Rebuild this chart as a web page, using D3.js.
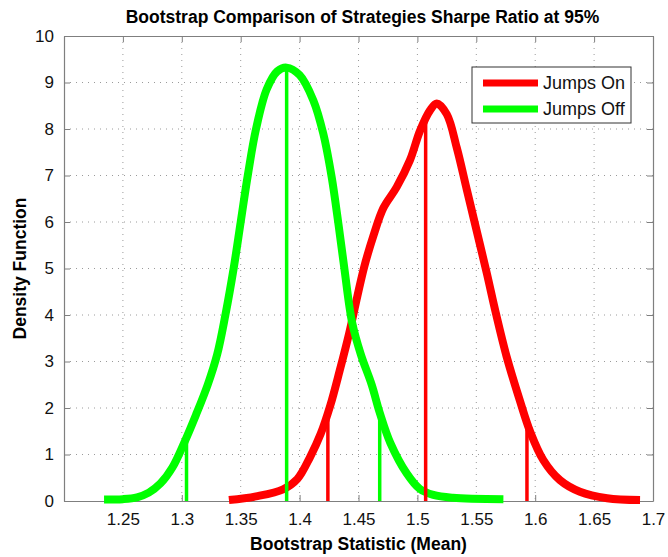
<!DOCTYPE html>
<html>
<head>
<meta charset="utf-8">
<script src="https://cdn.jsdelivr.net/npm/d3@7"></script>
<style>
  body { margin: 0; background: #fff; }
  svg { display: block; }
</style>
</head>
<body>
<div id="chart"></div>
<script>
// tick labels
var xTicks = [1.25, 1.3, 1.35, 1.4, 1.45, 1.5, 1.55, 1.6, 1.65, 1.7];
var yTicks = [0, 1, 2, 3, 4, 5, 6, 7, 8, 9, 10];

// Jumps On density (red)
var onX = [1.340, 1.363, 1.386, 1.398, 1.409, 1.418, 1.426, 1.434, 1.442, 1.449, 1.455, 1.4626,
  1.4711, 1.4824, 1.4937, 1.5022, 1.5107, 1.5164, 1.5249, 1.5334, 1.5419, 1.5504, 1.5589,
  1.5665, 1.5758, 1.5871, 1.5956, 1.6069, 1.621, 1.638, 1.661, 1.689];
var onY = [0.02, 0.1, 0.25, 0.47, 0.95, 1.45, 2.05, 2.8, 3.6, 4.4, 5.05, 5.7,
  6.3, 6.75, 7.33, 7.96, 8.4, 8.55, 8.32, 7.6, 6.7, 5.8, 4.9,
  4.05, 3.1, 2.15, 1.5, 0.88, 0.45, 0.2, 0.06, 0.02];

// Jumps Off density (green)
var offX = [1.234, 1.250, 1.262, 1.272, 1.282, 1.292, 1.302, 1.312, 1.322, 1.330, 1.337,
  1.344, 1.350, 1.356, 1.363, 1.372, 1.381, 1.389, 1.400, 1.4116, 1.4201, 1.4272, 1.433,
  1.438, 1.4445, 1.452, 1.4612, 1.468, 1.477, 1.491, 1.502, 1.5135, 1.530, 1.573];
var offY = [0.03, 0.04, 0.08, 0.18, 0.38, 0.72, 1.25, 1.85, 2.5, 3.15, 4.0,
  5.0, 6.0, 7.0, 8.0, 8.85, 9.24, 9.32, 9.16, 8.62, 7.9, 6.97, 5.95,
  5.0, 3.85, 3.15, 2.5, 1.9, 1.25, 0.59, 0.26, 0.13, 0.07, 0.04];

// confidence bounds and mean (vertical markers)
var onMarkX = [1.424, 1.507, 1.593];
var onMarkY = [1.75, 8.15, 1.65];
var offMarkX = [1.304, 1.389, 1.468];
var offMarkY = [1.4, 9.3, 1.9];

var seriesNames = ["Jumps On", "Jumps Off"];
var seriesColors = ["#ff0000", "#00ff00"];

var W = 668, H = 557;
var margin = { top: 36, right: 15, bottom: 56, left: 64 },
  width = W - margin.left - margin.right,
  height = H - margin.top - margin.bottom;

var svg = d3.select("#chart")
  .append("svg")
  .attr("width", W)
  .attr("height", H)
  .style("font-family", "'Liberation Sans', Arial, Helvetica, sans-serif");

var g = svg.append("g")
  .attr("transform", "translate(" + margin.left + "," + margin.top + ")");

var x = d3.scaleLinear().domain([1.2, 1.7]).range([0, width]);
var y = d3.scaleLinear().domain([0, 10]).range([height, 0]);

var axisColor = "#7f7f7f";

// dotted grid
g.append("g")
  .selectAll("line")
  .data(xTicks.filter(function (d) { return d < 1.7; }))
  .enter().append("line")
  .attr("x1", function (d) { return x(d); })
  .attr("x2", function (d) { return x(d); })
  .attr("y1", 0).attr("y2", height)
  .attr("stroke", "#9a9a9a")
  .attr("stroke-dasharray", "1,5");

g.append("g")
  .selectAll("line")
  .data(yTicks.filter(function (d) { return d > 0 && d < 10; }))
  .enter().append("line")
  .attr("y1", function (d) { return y(d); })
  .attr("y2", function (d) { return y(d); })
  .attr("x1", 0).attr("x2", width)
  .attr("stroke", "#9a9a9a")
  .attr("stroke-dasharray", "1,5");

// box + axes (ticks point inward)
function styleAxis(sel, labels) {
  sel.select(".domain").attr("stroke", axisColor);
  sel.selectAll(".tick line").attr("stroke", axisColor);
  sel.selectAll(".tick text")
    .attr("fill", "#111")
    .style("font-size", labels ? "17px" : "0px");
}

var xAxis = g.append("g")
  .attr("transform", "translate(0," + height + ")")
  .call(d3.axisBottom(x).tickValues(xTicks).tickSizeInner(-6).tickSizeOuter(0)
    .tickPadding(12).tickFormat(d3.format("")));
styleAxis(xAxis, true);

var xTop = g.append("g")
  .call(d3.axisTop(x).tickValues(xTicks).tickSizeInner(-6).tickSizeOuter(0).tickFormat(""));
styleAxis(xTop, false);

var yAxis = g.append("g")
  .call(d3.axisLeft(y).tickValues(yTicks).tickSizeInner(-6).tickSizeOuter(0).tickPadding(10));
styleAxis(yAxis, true);

var yRight = g.append("g")
  .attr("transform", "translate(" + width + ",0)")
  .call(d3.axisRight(y).tickValues(yTicks).tickSizeInner(-6).tickSizeOuter(0).tickFormat(""));
styleAxis(yRight, false);

g.selectAll(".domain").attr("stroke-width", 1.2);

// density curves
var line = d3.line()
  .x(function (d) { return x(d[0]); })
  .y(function (d) { return y(d[1]); })
  .curve(d3.curveCatmullRom.alpha(0.5));

var series = [d3.zip(onX, onY), d3.zip(offX, offY)];

g.append("g")
  .selectAll("path")
  .data(series)
  .enter().append("path")
  .attr("d", line)
  .attr("fill", "none")
  .attr("stroke", function (d, i) { return seriesColors[i]; })
  .attr("stroke-width", 8)
  .attr("stroke-linejoin", "round");

// vertical markers
var marks = [d3.zip(onMarkX, onMarkY), d3.zip(offMarkX, offMarkY)];
marks.forEach(function (m, i) {
  g.append("g")
    .selectAll("line")
    .data(m)
    .enter().append("line")
    .attr("x1", function (d) { return x(d[0]); })
    .attr("x2", function (d) { return x(d[0]); })
    .attr("y1", y(0))
    .attr("y2", function (d) { return y(d[1]); })
    .attr("stroke", seriesColors[i])
    .attr("stroke-width", 3.5);
});

// title and axis labels
svg.append("text")
  .attr("x", margin.left + width / 2 + 4)
  .attr("y", 23)
  .attr("text-anchor", "middle")
  .style("font-size", "17.5px")
  .style("font-weight", "bold")
  .text("Bootstrap Comparison of Strategies Sharpe Ratio at 95%");

svg.append("text")
  .attr("x", margin.left + width / 2)
  .attr("y", 550)
  .attr("text-anchor", "middle")
  .style("font-size", "17.5px")
  .style("font-weight", "bold")
  .text("Bootstrap Statistic (Mean)");

svg.append("text")
  .attr("transform", "translate(26," + (margin.top + height / 2) + ") rotate(-90)")
  .attr("text-anchor", "middle")
  .style("font-size", "17.5px")
  .style("font-weight", "bold")
  .text("Density Function");

// legend
var legend = svg.append("g").attr("transform", "translate(472,67)");
legend.append("rect")
  .attr("width", 159).attr("height", 56)
  .attr("fill", "#fff")
  .attr("stroke", "#333")
  .attr("stroke-width", 1);

seriesNames.forEach(function (name, i) {
  var ly = 16 + i * 26;
  legend.append("line")
    .attr("x1", 11).attr("x2", 66)
    .attr("y1", ly).attr("y2", ly)
    .attr("stroke", seriesColors[i])
    .attr("stroke-width", 7);
  legend.append("text")
    .attr("x", 71).attr("y", ly + 6)
    .style("font-size", "18px")
    .attr("fill", "#111")
    .text(name);
});
</script>
</body>
</html>
